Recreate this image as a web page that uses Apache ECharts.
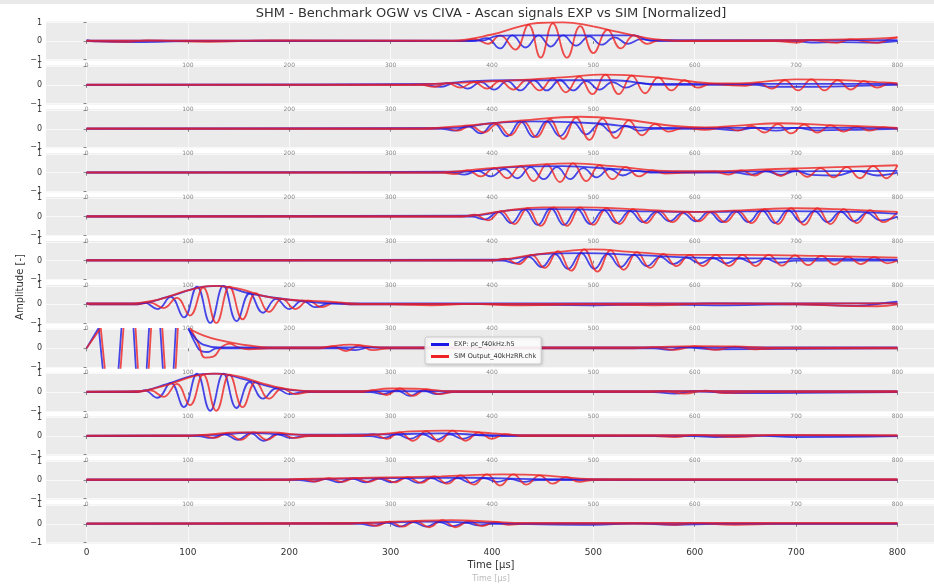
<!DOCTYPE html>
<html>
<head>
<meta charset="utf-8">
<script src="https://cdn.jsdelivr.net/npm/echarts@6/dist/echarts.min.js"></script>
<style>
  html, body { margin: 0; padding: 0; background: #fff; }
  #chart { width: 934px; height: 586px; }
</style>
</head>
<body>
<div id="chart"></div>
<script>
// tick labels
const xTicks = [0, 100, 200, 300, 400, 500, 600, 700, 800]
const yTicks = [-1, 0, 1]

const expName = 'EXP: pc_f40kHz.h5'
const simName = 'SIM Output_40kHzRR.chk'

// EXP (blue) traces, one per channel, [time µs, amplitude]
const expTraces = [
  [[0,0.05],[5,0],[40,-0.06],[70,-0.05],[100,0],[380,0],[395,0.15],[408,-0.4],[420,0.3],[433,-0.35],[446,0.3],[458,-0.3],[470,0.3],[483,-0.25],[496,0.25],[508,-0.2],[521,0.2],[534,-0.15],[547,0.1],[560,0],[700,0],[715,-0.08],[740,-0.06],[780,-0.08],[800,0]],
  [[0,0],[330,0],[350,-0.1],[363,0.1],[376,-0.2],[389,0.15],[402,-0.25],[415,0.2],[428,-0.3],[441,0.25],[454,-0.3],[467,0.25],[480,-0.3],[493,0.2],[506,-0.25],[519,0.15],[532,-0.15],[545,0.1],[560,0],[660,0],[675,-0.1],[700,-0.1],[720,-0.1],[760,-0.05],[800,0]],
  [[0,0],[350,0],[363,-0.1],[376,0.15],[389,-0.25],[402,0.3],[415,-0.4],[428,0.4],[441,-0.45],[454,0.4],[467,-0.4],[480,0.35],[493,-0.3],[506,0.25],[519,-0.2],[532,0.15],[545,-0.1],[560,0],[620,0],[640,-0.08],[660,0.05],[680,-0.1],[700,0.05],[720,-0.08],[760,-0.05],[800,0]],
  [[0,0],[360,0],[373,-0.1],[386,0.1],[399,-0.2],[412,0.2],[425,-0.3],[438,0.3],[451,-0.35],[464,0.3],[477,-0.35],[490,0.25],[503,-0.25],[516,0.2],[529,-0.15],[542,0.1],[560,0],[640,0],[655,-0.1],[670,0.08],[685,-0.12],[700,0.1],[715,-0.12],[740,-0.15],[760,0.1],[780,-0.15],[800,0]],
  [[0,0],[380,0],[393,-0.15],[406,0.25],[419,-0.35],[432,0.4],[445,-0.45],[458,0.45],[471,-0.45],[484,0.4],[497,-0.4],[510,0.35],[523,-0.35],[536,0.3],[549,-0.3],[562,0.25],[575,-0.25],[588,0.2],[601,-0.25],[614,0.25],[627,-0.3],[640,0.3],[653,-0.3],[666,0.35],[679,-0.35],[692,0.35],[705,-0.3],[718,0.3],[731,-0.3],[744,0.25],[757,-0.25],[770,0.2],[783,-0.2],[800,0]],
  [[0,0],[410,0],[423,-0.15],[436,0.2],[449,-0.35],[462,0.35],[475,-0.45],[488,0.4],[501,-0.45],[514,0.35],[527,-0.35],[540,0.3],[553,-0.3],[566,0.2],[579,-0.2],[592,0.15],[605,-0.15],[618,0.12],[631,-0.15],[644,0.12],[657,-0.12],[670,0.1],[683,-0.12],[700,0],[800,0]],
  [[0,0.08],[3,0],[50,0],[57,0.1],[70,-0.25],[83,0.4],[96,-0.7],[109,0.95],[122,-1.0],[135,1.0],[148,-0.9],[161,0.6],[174,-0.45],[187,0.3],[200,-0.25],[213,0.2],[226,-0.15],[240,0.05],[260,0],[300,0],[360,0.03],[420,0],[500,-0.05],[560,0],[620,-0.05],[700,0],[760,-0.08],[790,0.1],[800,0.15]],
  [[101,1.0],[108,0.2],[113,-0.15],[120,-0.2],[128,0],[150,0],[250,0],[265,-0.1],[280,0.05],[300,0],[560,0],[575,-0.08],[590,0.05],[620,-0.05],[800,0]],
  [[0,0],[50,0],[57,0.1],[70,-0.3],[83,0.5],[96,-0.8],[109,1.0],[122,-1.0],[135,1.0],[148,-0.85],[161,0.55],[174,-0.35],[187,0.2],[200,-0.1],[215,0],[280,0],[293,-0.1],[306,0.1],[319,-0.2],[332,0.1],[345,-0.1],[360,0],[560,0],[580,-0.08],[600,0.05],[640,-0.05],[800,0]],
  [[0,0],[110,0],[123,-0.1],[136,0.1],[149,-0.2],[162,0.15],[175,-0.25],[188,0.1],[201,-0.1],[215,0],[280,0],[293,-0.1],[306,0.1],[319,-0.15],[332,0.1],[345,-0.2],[358,0.1],[371,-0.15],[384,0.05],[400,0],[600,0],[620,-0.05],[660,0.03],[700,-0.05],[800,0]],
  [[0,0],[210,0],[223,-0.08],[236,0.05],[249,-0.12],[262,0.08],[275,-0.12],[288,0.08],[301,-0.12],[314,0.1],[327,-0.15],[340,0.1],[353,-0.15],[366,0.1],[379,-0.15],[392,0.1],[405,-0.1],[418,0.05],[431,-0.1],[445,0],[800,0]],
  [[0,0],[270,0],[283,-0.1],[296,0.08],[309,-0.15],[322,0.1],[335,-0.15],[348,0.1],[361,-0.12],[374,0.05],[387,-0.08],[400,0],[500,-0.05],[540,0.03],[580,-0.05],[620,0],[800,0]]
]

// SIM (red) traces
const simTraces = [
  [[0,0],[40,-0.04],[60,0.03],[120,-0.04],[180,0.03],[370,0],[383,0.1],[396,-0.15],[408,0.3],[423,-0.46],[436,0.87],[448,-0.9],[460,0.95],[474,-0.9],[487,0.8],[500,-0.65],[514,0.6],[527,-0.4],[540,0.3],[553,-0.15],[566,0.05],[590,0],[680,0],[700,-0.08],[713,0.05],[740,-0.1],[753,0.08],[780,-0.1],[793,0.12],[800,0.2]],
  [[0,0],[330,0],[343,-0.1],[356,0.1],[369,-0.15],[382,0.15],[395,-0.2],[408,0.2],[421,-0.25],[434,0.25],[447,-0.3],[460,0.35],[473,-0.4],[486,0.45],[499,-0.5],[512,0.55],[525,-0.5],[538,0.5],[551,-0.45],[564,0.4],[577,-0.3],[590,0.25],[603,-0.15],[616,0.05],[630,0],[650,-0.05],[663,0.1],[676,-0.2],[689,0.25],[702,-0.3],[715,0.3],[728,-0.3],[741,0.25],[754,-0.25],[767,0.2],[780,-0.15],[793,0.1],[800,0]],
  [[0,0],[340,0],[353,0.05],[366,-0.1],[379,0.15],[392,-0.2],[405,0.25],[418,-0.35],[431,0.4],[444,-0.45],[457,0.5],[470,-0.55],[483,0.6],[496,-0.6],[509,0.55],[522,-0.5],[535,0.45],[548,-0.35],[561,0.25],[574,-0.15],[590,0.05],[610,-0.05],[630,0.08],[643,-0.1],[656,0.15],[669,-0.2],[682,0.25],[695,-0.25],[708,0.22],[721,-0.2],[734,0.18],[747,-0.15],[760,0.12],[773,-0.1],[786,0.08],[800,0]],
  [[0,0],[350,0],[363,-0.08],[376,0.12],[389,-0.2],[402,0.25],[415,-0.3],[428,0.35],[441,-0.45],[454,0.45],[467,-0.5],[480,0.5],[493,-0.45],[506,0.4],[519,-0.35],[532,0.3],[545,-0.2],[558,0.12],[571,-0.05],[590,0],[620,0.05],[633,-0.1],[646,0.12],[659,-0.15],[672,0.15],[685,-0.18],[698,0.2],[711,-0.22],[724,0.25],[737,-0.25],[750,0.3],[763,-0.3],[776,0.35],[789,-0.3],[800,0.4]],
  [[0,0],[370,0],[383,0.1],[396,-0.2],[409,0.3],[422,-0.4],[435,0.45],[448,-0.5],[461,0.5],[474,-0.5],[487,0.5],[500,-0.45],[513,0.45],[526,-0.4],[539,0.4],[552,-0.35],[565,0.3],[578,-0.3],[591,0.25],[604,-0.25],[617,0.25],[630,-0.3],[643,0.3],[656,-0.35],[669,0.4],[682,-0.4],[695,0.45],[708,-0.45],[721,0.45],[734,-0.4],[747,0.4],[760,-0.35],[773,0.35],[786,-0.3],[800,0.25]],
  [[0,0],[400,0],[413,0.1],[426,-0.2],[439,0.3],[452,-0.4],[465,0.5],[478,-0.55],[491,0.6],[504,-0.6],[517,0.55],[530,-0.5],[543,0.45],[556,-0.4],[569,0.35],[582,-0.3],[595,0.3],[608,-0.3],[621,0.3],[634,-0.3],[647,0.3],[660,-0.3],[673,0.3],[686,-0.28],[699,0.28],[712,-0.25],[725,0.25],[738,-0.22],[751,0.2],[764,-0.2],[777,0.18],[790,-0.15],[800,0]],
  [[0,0.05],[3,0],[50,0],[63,0.1],[76,-0.2],[89,0.35],[102,-0.6],[115,0.9],[128,-1.0],[141,0.95],[154,-0.8],[167,0.6],[180,-0.4],[193,0.3],[206,-0.25],[219,0.2],[232,-0.15],[245,0.1],[260,0],[300,0],[340,-0.05],[380,0.03],[420,-0.05],[500,0],[560,-0.05],[620,0.05],[700,0],[780,-0.1],[800,0]],
  [[103,1.0],[110,0.3],[117,-0.5],[125,-0.45],[133,0.05],[141,0.25],[150,0.05],[160,-0.05],[180,0],[230,0],[243,0.1],[256,-0.15],[269,0.15],[282,-0.1],[300,0],[540,0],[560,0.05],[580,-0.08],[600,0.1],[620,-0.08],[640,0.08],[660,-0.05],[680,0],[800,0]],
  [[0,0],[50,0],[63,0.1],[76,-0.25],[89,0.45],[102,-0.7],[115,0.95],[128,-1.0],[141,0.95],[154,-0.8],[167,0.55],[180,-0.35],[193,0.2],[206,-0.1],[220,0],[270,0],[283,0.1],[296,-0.15],[309,0.2],[322,-0.2],[335,0.15],[348,-0.1],[362,0],[550,0],[570,0.05],[590,-0.08],[610,0.08],[630,-0.05],[660,0],[800,0]],
  [[0,0],[100,0],[113,0.05],[126,-0.1],[139,0.15],[152,-0.2],[165,0.2],[178,-0.2],[191,0.15],[204,-0.1],[220,0],[270,0],[283,0.1],[296,-0.15],[309,0.2],[322,-0.25],[335,0.25],[348,-0.3],[361,0.3],[374,-0.25],[387,0.2],[400,-0.15],[413,0.1],[430,0],[560,0],[580,-0.05],[600,0.05],[640,-0.05],[680,0.05],[800,0]],
  [[0,0],[200,0],[213,0.05],[226,-0.08],[239,0.1],[252,-0.1],[265,0.1],[278,-0.1],[291,0.1],[304,-0.12],[317,0.15],[330,-0.15],[343,0.2],[356,-0.2],[369,0.25],[382,-0.25],[395,0.3],[408,-0.3],[421,0.3],[434,-0.25],[447,0.25],[460,-0.2],[473,0.15],[486,-0.1],[500,0],[800,0]],
  [[0,0],[260,0],[273,0.05],[286,-0.1],[299,0.12],[312,-0.15],[325,0.15],[338,-0.18],[351,0.2],[364,-0.18],[377,0.15],[390,-0.12],[403,0.1],[416,-0.05],[430,0],[560,0],[580,-0.05],[600,0.03],[640,-0.05],[680,0],[800,0]]
]

// saturated crosstalk at the start of channel 8 (drawn unsmoothed, clipped by the axis)
const expBurst = [[0,0],[12,1.1],[25,-6],[41,6],[54,-6],[67,6],[81,-6],[93,6],[101,1.0]]
const simBurst = [[0,0],[14,1.1],[27,-6],[43,6],[56,-6],[69,6],[83,-6],[95,6],[103,1.0]]

// upper envelopes
const simEnvelopes = [
  [[0,0.02],[360,0.02],[400,0.35],[425,0.75],[445,0.97],[470,1.0],[490,0.9],[515,0.6],[540,0.3],[560,0.1],[580,0.02],[700,0.05],[760,0.1],[800,0.2]],
  [[0,0.02],[320,0.02],[380,0.15],[440,0.3],[480,0.45],[507,0.55],[540,0.5],[580,0.3],[620,0.08],[650,0.1],[700,0.3],[740,0.27],[780,0.15],[800,0.1]],
  [[0,0.02],[330,0.02],[380,0.2],[430,0.45],[487,0.65],[530,0.5],[580,0.15],[610,0.08],[650,0.2],[684,0.3],[730,0.2],[780,0.1],[800,0.05]],
  [[0,0.02],[340,0.02],[400,0.25],[450,0.45],[480,0.5],[520,0.35],[570,0.1],[610,0.08],[680,0.2],[740,0.3],[800,0.4]],
  [[0,0.02],[370,0.02],[410,0.3],[450,0.5],[490,0.5],[540,0.4],[600,0.25],[650,0.35],[700,0.45],[740,0.4],[800,0.25]],
  [[0,0.02],[400,0.02],[440,0.3],[480,0.55],[500,0.6],[540,0.45],[590,0.3],[650,0.3],[720,0.25],[800,0.15]],
  [[0,0.05],[40,0.05],[70,0.25],[100,0.75],[125,1.0],[150,0.85],[175,0.45],[200,0.25],[240,0.15],[270,0.03],[800,0.05]],
  [[103,1.0],[115,0.7],[130,0.45],[145,0.28],[160,0.15],[180,0.05],[230,0.05],[260,0.2],[290,0.05],[550,0.05],[600,0.12],[640,0.1],[680,0.03],[800,0.03]],
  [[0,0.03],[50,0.05],[80,0.4],[105,0.85],[125,1.0],[150,0.85],[175,0.45],[200,0.15],[230,0.05],[270,0.05],[300,0.2],[330,0.18],[360,0.05],[800,0.05]],
  [[0,0.03],[110,0.05],[150,0.2],[180,0.2],[220,0.05],[270,0.05],[320,0.25],[355,0.3],[400,0.15],[430,0.05],[800,0.05]],
  [[0,0.03],[200,0.05],[280,0.12],[350,0.2],[410,0.3],[450,0.25],[500,0.05],[800,0.05]],
  [[0,0.03],[260,0.05],[320,0.15],[360,0.2],[400,0.12],[430,0.05],[800,0.05]]
]
const expEnvelopes = [
  [[0,0.02],[390,0.02],[405,0.28],[420,0.3],[540,0.3],[555,0.05],[800,0.05]],
  [[0,0.02],[340,0.05],[380,0.2],[420,0.25],[520,0.25],[560,0.05],[800,0.05]],
  [[0,0.02],[360,0.05],[400,0.3],[440,0.4],[500,0.3],[560,0.05],[800,0.05]],
  [[0,0.02],[370,0.05],[420,0.3],[470,0.35],[520,0.2],[560,0.05],[800,0.1]],
  [[0,0.02],[380,0.05],[420,0.35],[460,0.4],[540,0.3],[600,0.25],[680,0.3],[760,0.25],[800,0.15]],
  [[0,0.02],[410,0.05],[450,0.35],[490,0.4],[540,0.3],[600,0.15],[700,0.1],[800,0.05]],
  [[0,0.05],[50,0.05],[80,0.4],[110,0.9],[130,1.0],[160,0.6],[200,0.25],[250,0.05],[800,0.05]],
  [[101,1.0],[108,0.5],[115,0.2],[130,0.05],[800,0.05]],
  [[0,0.03],[50,0.05],[80,0.45],[110,0.95],[130,1.0],[155,0.7],[190,0.2],[220,0.05],[800,0.05]],
  [[0,0.03],[120,0.05],[160,0.18],[200,0.08],[300,0.1],[350,0.15],[400,0.05],[800,0.03]],
  [[0,0.03],[220,0.05],[300,0.1],[380,0.12],[440,0.05],[800,0.03]],
  [[0,0.03],[280,0.05],[330,0.12],[380,0.08],[420,0.03],[800,0.03]]
]

const BLUE = '#1a1ae6'
const RED = '#ee2222'
const FONT = 'DejaVu Sans'
const nRows = 12

const chart = echarts.init(document.getElementById('chart'), null, { renderer: 'canvas' })

let grids = []
let xAxes = []
let yAxes = []
let series = []

const minusFmt = (v) => (v < 0 ? '\u2212' + Math.abs(v) : String(v))

for (let i = 0; i < nRows; ++i) {
    const last = i === nRows - 1
    grids.push({
        left: 46,
        top: 21.5 + 43.9 * i,
        width: 892,
        height: 39,
        show: true,
        backgroundColor: '#ebebeb',
        borderWidth: 0,
        containLabel: false,
        outerBoundsMode: 'none',
    })
    xAxes.push({
        gridIndex: i,
        type: 'value',
        min: -40,
        max: 840,
        axisLine: { show: false },
        axisTick: { show: true, customValues: xTicks, length: 3, lineStyle: { color: '#888' } },
        axisLabel: {
            customValues: xTicks,
            fontSize: last ? 9 : 6,
            margin: last ? 5 : 2,
            color: last ? '#333' : '#888',
            fontFamily: FONT,
        },
        splitLine: { show: true, lineStyle: { color: '#f8f8f8', width: 1 } },
    })
    yAxes.push({
        gridIndex: i,
        type: 'value',
        min: -1.05,
        max: 1.05,
        axisLine: { show: false },
        axisTick: { show: true, customValues: yTicks, length: 3, lineStyle: { color: '#888' } },
        axisLabel: { customValues: yTicks, formatter: minusFmt, fontSize: 8, margin: 4, color: '#333', fontFamily: FONT },
        splitLine: { show: true, lineStyle: { color: '#f8f8f8', width: 1 } },
    })

    const common = {
        type: 'line',
        xAxisIndex: i,
        yAxisIndex: i,
        showSymbol: false,
        silent: true,
        clip: true,
    }
    series.push(Object.assign({}, common, {
        name: expName, data: expTraces[i], smooth: 0.45,
        lineStyle: { color: BLUE, width: 1.8, opacity: 0.8 }, itemStyle: { color: BLUE },
    }))
    series.push(Object.assign({}, common, {
        name: simName, data: simTraces[i], smooth: 0.45,
        lineStyle: { color: RED, width: 1.8, opacity: 0.8 }, itemStyle: { color: RED },
    }))
    series.push(Object.assign({}, common, {
        name: 'expEnv', data: expEnvelopes[i], smooth: 0.4,
        lineStyle: { color: BLUE, width: 1.8, opacity: 0.8 },
    }))
    series.push(Object.assign({}, common, {
        name: 'simEnv', data: simEnvelopes[i], smooth: 0.4,
        lineStyle: { color: RED, width: 1.8, opacity: 0.8 },
    }))
    if (i === 7) {
        series.push(Object.assign({}, common, {
            name: 'expBurst', data: expBurst, smooth: false,
            lineStyle: { color: BLUE, width: 1.8, opacity: 0.8 },
        }))
        series.push(Object.assign({}, common, {
            name: 'simBurst', data: simBurst, smooth: false,
            lineStyle: { color: RED, width: 1.8, opacity: 0.8 },
        }))
    }
}

const option = {
    animation: false,
    backgroundColor: '#ffffff',
    grid: grids,
    xAxis: xAxes,
    yAxis: yAxes,
    series: series,
    legend: {
        data: [
            { name: expName, icon: 'rect', itemStyle: { color: BLUE } },
            { name: simName, icon: 'rect', itemStyle: { color: RED } },
        ],
        orient: 'vertical',
        left: 425,
        top: 337,
        itemWidth: 18,
        itemHeight: 3,
        itemGap: 5,
        padding: [4, 5, 4, 6],
        backgroundColor: 'rgba(255,255,255,0.9)',
        borderColor: '#cccccc',
        borderWidth: 1,
        borderRadius: 2,
        shadowColor: 'rgba(0,0,0,0.15)',
        shadowBlur: 3,
        shadowOffsetX: 1,
        shadowOffsetY: 1,
        textStyle: { fontSize: 6.5, color: '#333', fontFamily: FONT },
    },
    graphic: [
        { type: 'rect', shape: { x: 0, y: 0, width: 934, height: 4 }, style: { fill: '#e9e9e9' }, silent: true },
        {
            type: 'text', x: 491, y: 14,
            style: { text: 'SHM - Benchmark OGW vs CIVA - Ascan signals EXP vs SIM [Normalized]', fill: '#333', font: '13px "DejaVu Sans"', textAlign: 'center', textVerticalAlign: 'middle' },
        },
        {
            type: 'text', x: 20, y: 287, rotation: Math.PI / 2,
            style: { text: 'Amplitude [-]', fill: '#333', font: '10px "DejaVu Sans"', textAlign: 'center', textVerticalAlign: 'middle' },
        },
        {
            type: 'text', x: 491, y: 565,
            style: { text: 'Time [\u00b5s]', fill: '#333', font: '10px "DejaVu Sans"', textAlign: 'center', textVerticalAlign: 'middle' },
        },
        {
            type: 'text', x: 491, y: 579,
            style: { text: 'Time [\u00b5s]', fill: '#bbb', font: '8px "DejaVu Sans"', textAlign: 'center', textVerticalAlign: 'middle' },
        },
    ],
}

chart.setOption(option)
</script>
</body>
</html>
